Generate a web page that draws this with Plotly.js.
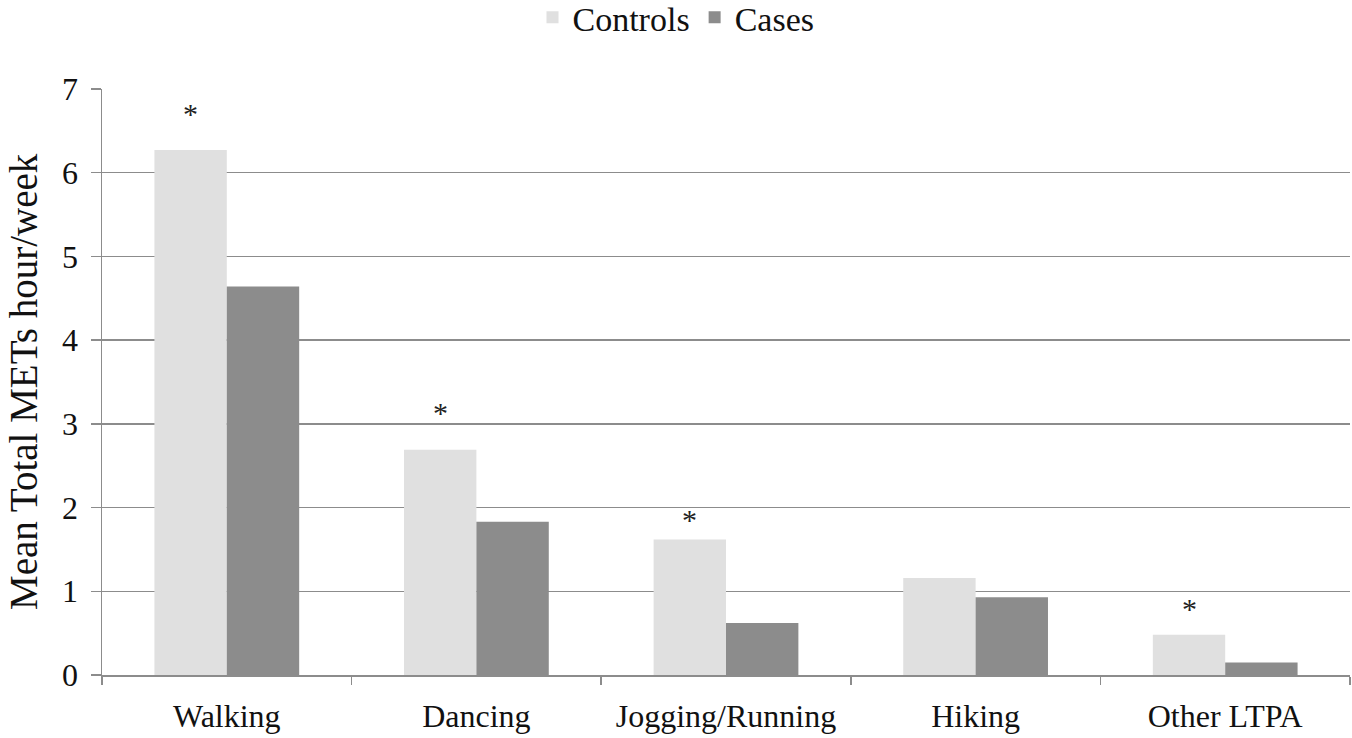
<!DOCTYPE html>
<html>
<head>
<meta charset="utf-8">
<script src="https://cdn.plot.ly/plotly-3.0.1.min.js"></script>
<style>html,body{margin:0;padding:0;background:#fff;}#chart{width:1352px;height:738px;}</style>
</head>
<body>
<div id="chart"></div>
<script>
const categories = ["Walking", "Dancing", "Jogging/Running", "Hiking", "Other LTPA"];
const controls = [6.27, 2.69, 1.62, 1.16, 0.48];
const cases = [4.64, 1.83, 0.62, 0.93, 0.15];
const significant = [true, true, true, false, true];
const starLevel = [6.71, 3.13, 1.86, null, 0.80];
const yTicks = [0, 1, 2, 3, 4, 5, 6, 7];
const yTitle = "Mean Total METs hour/week";

const font = "Liberation Serif, Times New Roman, serif";

const traces = [
  {type: "bar", name: "Controls", x: categories, y: controls, marker: {color: "#e0e0e0"}},
  {type: "bar", name: "Cases", x: categories, y: cases, marker: {color: "#8c8c8c"}}
];

const bargap = 0.42;
const barHalf = (1 - bargap) / 4;
const annotations = [];
categories.forEach((c, i) => {
  if (significant[i]) {
    annotations.push({
      x: i - barHalf, y: starLevel[i], xref: "x", yref: "y",
      text: "*", showarrow: false, font: {family: font, size: 30, color: "#222"}
    });
  }
});
annotations.push({
  text: yTitle, xref: "paper", yref: "paper", x: 0, y: 0.5, xshift: -79,
  xanchor: "center", yanchor: "middle", textangle: -90, showarrow: false, borderpad: 0,
  font: {family: font, size: 39, color: "#111"}
});

const layout = {
  width: 1352, height: 738,
  margin: {l: 102, r: 2, t: 89, b: 63, autoexpand: false},
  paper_bgcolor: "#fff", plot_bgcolor: "#fff",
  font: {family: font, color: "#111"},
  barmode: "group", bargap: bargap, bargroupgap: 0,
  showlegend: true,
  legend: {orientation: "h", x: 0.5, xref: "container", xanchor: "center", y: 0.976, yref: "container", yanchor: "middle",
           font: {family: font, size: 34, color: "#111"}, traceorder: "normal", itemwidth: 30},
  xaxis: {
    type: "category", showgrid: false, showline: true, linecolor: "#8c8c8c", linewidth: 1.5,
    ticks: "outside", tickson: "boundaries", ticklen: 8, tickcolor: "#8c8c8c", tickwidth: 1.5,
    tickfont: {family: font, size: 32, color: "#111"}, ticklabelstandoff: 12, tickangle: 0, automargin: false
  },
  yaxis: {
    range: [0, 7], tickvals: yTicks, ticktext: yTicks.map(String),
    showgrid: true, gridcolor: "#8c8c8c", gridwidth: 1.5,
    showline: true, linecolor: "#8c8c8c", linewidth: 1.5, zeroline: false,
    ticks: "outside", ticklen: 10, tickcolor: "#8c8c8c", tickwidth: 1.5,
    tickfont: {family: font, size: 32, color: "#111"}, ticklabelstandoff: 6, automargin: false
  },
  annotations: annotations
};

Plotly.newPlot("chart", traces, layout, {displayModeBar: false, staticPlot: true});
</script>
</body>
</html>
